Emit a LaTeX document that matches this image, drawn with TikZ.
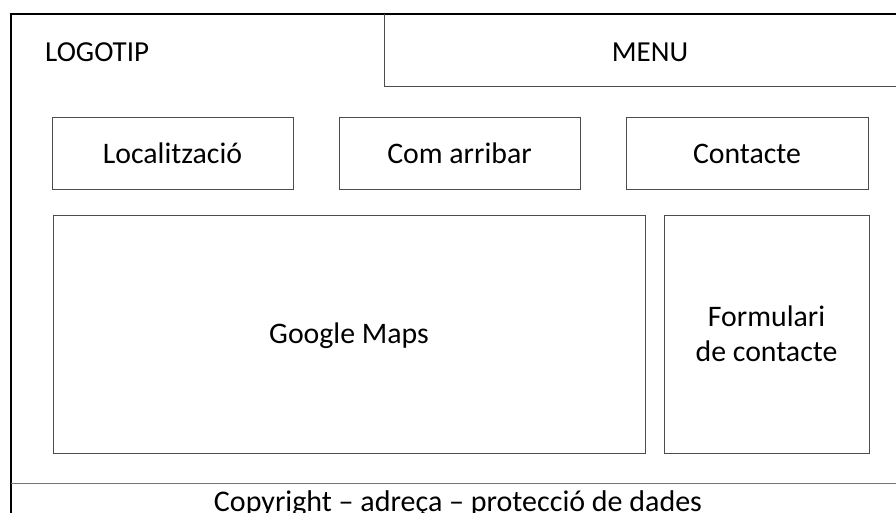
\documentclass[tikz,border=0pt]{standalone}
\usepackage{fontspec}
\setmainfont{Carlito}
\begin{document}
\begin{tikzpicture}[x=1pt,y=-1pt,
  box/.style={draw=black!70,line width=0.9pt,rectangle,inner sep=0pt,font=\fontsize{29.8}{35.5}\selectfont,align=center},
  tab/.style={box,minimum height=72pt,text height=28pt,text depth=6pt},
  label/.style={font=\fontsize{29}{34}\selectfont,inner sep=0pt},
  frame/.style={draw=black,line width=1.8pt},
  thin/.style={draw=black!70,line width=0.9pt}]
\useasboundingbox (0,0) rectangle (896,513);
\fill[white] (0,0) rectangle (896,513);
% outer frame
\coordinate (tl) at (11,14);
\coordinate (tr) at (897,14);
\coordinate (bl) at (11,514);
\draw[frame] (tr) -- (tl) -- (bl);
% menu box
\coordinate (m1) at (384,14);
\coordinate (m2) at (384,86);
\coordinate (m3) at (897,86);
\draw[thin] (m1) -- (m2) -- (m3);
% footer line
\coordinate (f1) at (11,483);
\coordinate (f2) at (897,483);
\draw[thin,draw=black!55] (f1) -- (f2);
% header texts
\node[label,anchor=west] (logo) at (45,52) {LOGOTIP};
\node[label] (menu) at (650,52) {MENU};
% boxes
\node[tab,minimum width=241pt] (loc) at (172.5,153) {Localització};
\node[tab,minimum width=241pt] (com) at (459.5,153) {Com arribar};
\node[tab,minimum width=242pt] (cont) at (747,153) {Contacte};
\node[box,minimum width=592pt,minimum height=238pt,text height=26pt,text depth=8pt] (maps) at (349,334) {Google Maps};
\node[box,minimum width=205pt,minimum height=238pt] (form) at (766.5,334) {Formulari\\de contacte};
% footer
\node[label,anchor=base,font=\fontsize{30}{36}\selectfont] (foot) at (458,511) {Copyright – adreça – protecció de dades};
\end{tikzpicture}
\end{document}
